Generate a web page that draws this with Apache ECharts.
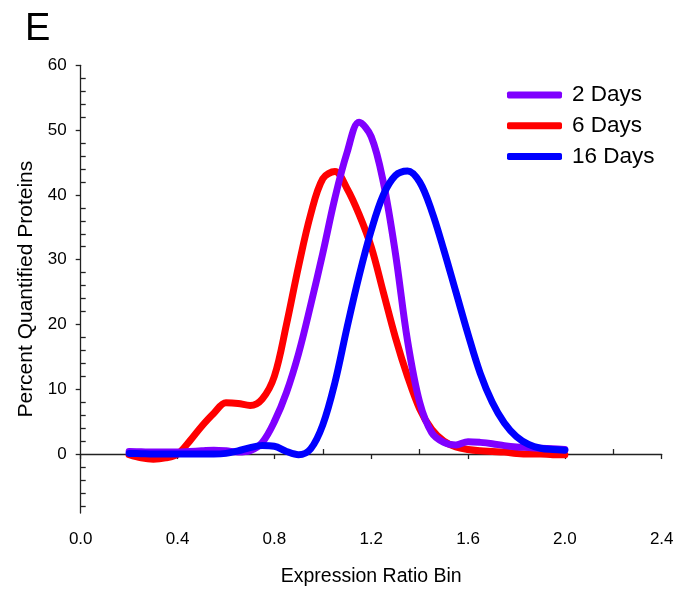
<!DOCTYPE html>
<html>
<head>
<meta charset="utf-8">
<script src="https://cdn.jsdelivr.net/npm/echarts@6/dist/echarts.min.js"></script>
<style>
  html, body { margin: 0; padding: 0; background: #fff; }
  #chart { width: 693px; height: 592px; }
</style>
</head>
<body>
<div id="chart"></div>
<script>
// bins 0.20 .. 2.00, step 0.05
const bins = [
  0.20, 0.25, 0.30, 0.35, 0.40, 0.45, 0.50, 0.55, 0.60, 0.65,
  0.70, 0.75, 0.80, 0.85, 0.90, 0.95, 1.00, 1.05, 1.10, 1.15,
  1.20, 1.25, 1.30, 1.35, 1.40, 1.45, 1.50, 1.55, 1.60, 1.65,
  1.70, 1.75, 1.80, 1.85, 1.90, 1.95, 2.00
];
const days2 = [
  0.4, 0.35, 0.3, 0.3, 0.3, 0.4, 0.5, 0.6, 0.5, 0.3,
  0.5, 1.8, 5.0, 9.5, 15.5, 23, 31, 39.5, 46.5, 51.2,
  49.0, 42, 31, 17.5, 8, 3.3, 1.8, 1.4, 1.9, 1.8,
  1.6, 1.3, 1.1, 1.0, 0.9, 0.8, 0.7
];
const days6 = [
  -0.1, -0.6, -0.8, -0.6, 0, 2.0, 4.3, 6.3, 7.9, 7.8,
  7.5, 8.5, 12, 20, 29, 37, 42.5, 43.6, 41, 37,
  32, 25, 18, 12, 7, 3.8, 2.0, 1.1, 0.7, 0.5,
  0.4, 0.3, 0.1, 0, 0, -0.1, -0.1
];
const days16 = [
  0.1, 0.05, 0, 0, 0, 0, 0, 0, 0.1, 0.5,
  1.0, 1.3, 1.2, 0.4, -0.1, 0.8, 4.5, 11, 19.5, 27.5,
  34.5, 40, 43, 43.7, 42, 37.5, 31.5, 25, 18.5, 12.5,
  8, 4.8, 2.7, 1.5, 0.9, 0.7, 0.6
];

const yMajor = [0, 10, 20, 30, 40, 50, 60];
const yMinor = [-8, -6, -4, -2, 2, 4, 6, 8, 12, 14, 16, 18, 22, 24, 26, 28,
                32, 34, 36, 38, 42, 44, 46, 48, 52, 54, 56, 58];
const xMinor = [0.2, 0.6, 1.0, 1.4, 1.8, 2.2];

const FONT = "'Liberation Sans', Arial, sans-serif";
const AX = "#222";

const pairs = (ys) => bins.map((x, i) => [x, ys[i]]);

const chart = echarts.init(document.getElementById("chart"), null, { renderer: "canvas" });

const hiddenAxis = {
  axisLine: { show: false },
  axisLabel: { show: false },
  splitLine: { show: false },
};

const lineSeries = (name, ys, color) => ({
  name, type: "line", data: pairs(ys), smooth: 0.35,
  showSymbol: false, symbol: "none",
  lineStyle: { color, width: 7, cap: "round", join: "round" },
  itemStyle: { color },
});

chart.setOption({
  animation: false,
  backgroundColor: "#fff",
  textStyle: { fontFamily: FONT },
  grid: { left: 80.7, right: 31.3, top: 65.3, bottom: 75.3 },
  graphic: [
    {
      type: "text", left: 25, top: 11,
      style: { text: "E", font: "38px " + FONT, fill: "#000" },
    },
  ],
  legend: {
    left: 502, top: 78,
    orient: "vertical",
    itemWidth: 55, itemHeight: 7, itemGap: 6.8,
    icon: "roundRect",
    data: ["2 Days", "6 Days", "16 Days"],
    textStyle: { fontSize: 22.5, lineHeight: 24, color: "#000", padding: [0, 0, 0, 5] },
  },
  xAxis: [
    {
      type: "value", min: 0, max: 2.4, interval: 0.4,
      name: "Expression Ratio Bin", nameLocation: "middle", nameGap: 54,
      nameTextStyle: { fontSize: 19.5, color: "#000" },
      axisLine: { lineStyle: { color: AX, width: 1.3 } },
      axisTick: { length: 5, lineStyle: { color: AX, width: 1.3 } },
      axisLabel: { fontSize: 17, color: "#000", margin: 18, formatter: (v) => v.toFixed(1) },
      splitLine: { show: false },
    },
    Object.assign({
      type: "value", min: 0, max: 2.4, position: "bottom",
      axisTick: { inside: true, length: 5, customValues: xMinor, lineStyle: { color: AX, width: 1.3 } },
    }, hiddenAxis),
  ],
  yAxis: [
    {
      type: "value", min: -9.1, max: 60,
      name: "Percent Quantified Proteins", nameLocation: "middle", nameGap: 42,
      nameTextStyle: { fontSize: 21, color: "#000" },
      axisLine: { lineStyle: { color: AX, width: 1.3 } },
      axisTick: { length: 5, customValues: yMajor, lineStyle: { color: AX, width: 1.3 } },
      axisLabel: { fontSize: 17, color: "#000", margin: 14, customValues: yMajor },
      splitLine: { show: false },
    },
    Object.assign({
      type: "value", min: -9.1, max: 60, position: "left",
      axisTick: { inside: true, length: 5, customValues: yMinor, lineStyle: { color: AX, width: 1.3 } },
    }, hiddenAxis),
  ],
  series: [
    lineSeries("6 Days", days6, "#ff0000"),
    lineSeries("2 Days", days2, "#8000ff"),
    lineSeries("16 Days", days16, "#0000ff"),
  ],
});

window.addEventListener("resize", () => chart.resize());
</script>
</body>
</html>
